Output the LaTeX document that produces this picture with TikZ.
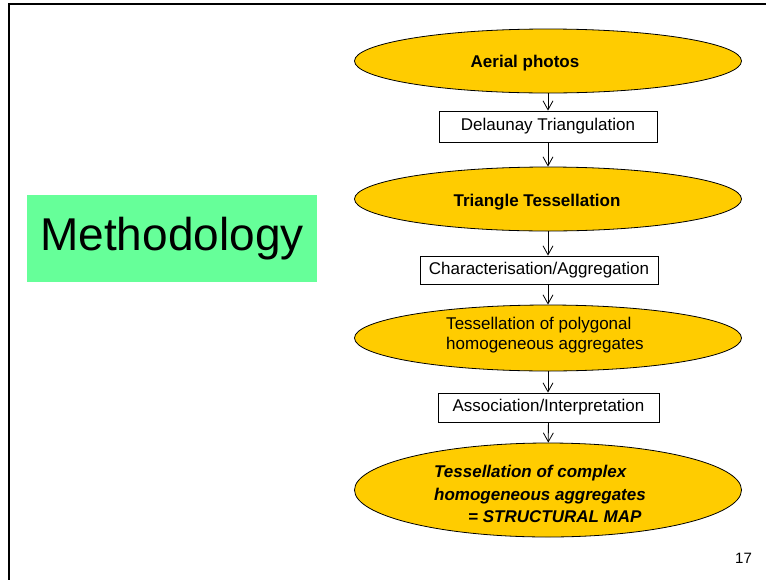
\documentclass[tikz,border=0pt]{standalone}
\usepackage{fontspec}
\setmainfont{Liberation Sans}
\usepackage{tikz}
\usetikzlibrary{shapes.geometric,arrows.meta}
\definecolor{gold}{HTML}{FFCC00}
\definecolor{mint}{HTML}{66FF99}
\tikzstyle{stage}=[shape=ellipse,draw,fill=gold,line width=0.8pt,minimum width=387pt,inner sep=0pt]
\tikzstyle{op}=[shape=rectangle,draw,fill=white,line width=0.8pt,inner sep=0pt,font=\fontsize{17}{20}\selectfont]
\tikzstyle{txt}=[inner sep=0pt,align=left,font=\fontsize{17}{20}\selectfont]
\tikzstyle{boldtxt}=[inner sep=0pt,align=left,font=\fontsize{17}{20}\selectfont\bfseries]
\tikzstyle{flow}=[-{Straight Barb[length=9pt,width=10pt]},line width=0.8pt]

\begin{document}
\begin{tikzpicture}[x=1pt,y=-1pt]
        \useasboundingbox (0,0) rectangle (766,579);
        \clip (0,0) rectangle (766,579);
        \draw[line width=1.6pt] (9,600) -- (9,4) -- (780,4);
        \node[fill=mint,minimum width=290pt,minimum height=87pt,inner sep=0pt,
            font=\fontsize{46}{50}\selectfont] (title) at (172,238.5) {Methodology};
        \node[stage,minimum height=64pt] (aerial) at (548,61) {};
        \node[boldtxt] at (525,63) {Aerial photos};
        \node[op,minimum width=218pt,minimum height=31pt] (delaunay) at (548,126.5) {Delaunay Triangulation}
            ;
        \node[stage,minimum height=64pt] (tri) at (548,199) {};
        \node[boldtxt] at (537,202) {Triangle Tessellation};
        \node[op,minimum width=238pt,minimum height=28pt] (charac) at (539,270) {Characterisation/Aggregation}
            ;
        \node[stage,minimum height=66pt] (poly) at (548,338) {};
        \node[txt,font=\fontsize{17}{19.5}\selectfont] at (545,335) {Tessellation of polygonal\\homogeneous aggregates};
        \node[op,minimum width=221pt,minimum height=29pt] (assoc) at (548.5,407.5) {Association/Interpretation}
            ;
        \node[stage,minimum height=94pt] (smap) at (548,490) {};
        \node[txt,font=\fontsize{17}{22.5}\selectfont\bfseries\itshape] at (540,494)
            {Tessellation of complex\\homogeneous aggregates\\\hspace*{34pt}= STRUCTURAL MAP};
        \node[font=\fontsize{15}{18}\selectfont,inner sep=0pt] (pageno) at (743.5,558) {17};
        % connectors
        \draw[flow] (aerial) -- (delaunay);
        \draw[flow] (delaunay) -- (tri);
        \draw[flow] (tri.south) -- (tri.south |- charac.north);
        \draw[flow] (tri.south |- charac.south) -- (poly.north);
        \draw[flow] (poly.south) -- (poly.south |- assoc.north);
        \draw[flow] (assoc) -- (smap);
    \end{tikzpicture}
\end{document}
